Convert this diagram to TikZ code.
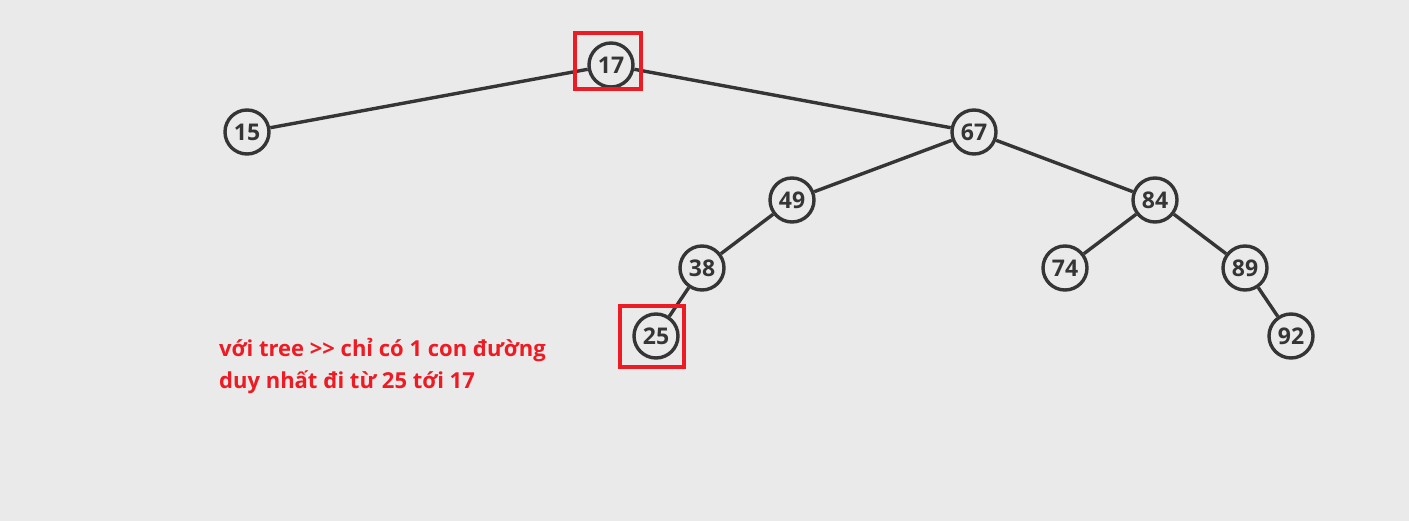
\documentclass[tikz,border=0pt]{standalone}
\usepackage{fontspec}
\setmainfont{Open Sans}
\usepackage{tikz}

\definecolor{bggray}{HTML}{EAEAEA}
\definecolor{edgegray}{HTML}{353535}
\definecolor{markred}{HTML}{ED1C24}

\begin{document}
\begin{tikzpicture}[x=1pt,y=-1pt,
    vertex/.style={circle, draw=edgegray, line width=3.4pt, fill=bggray,
                   minimum size=44pt, inner sep=0pt, text=edgegray,
                   font=\bfseries\fontsize{23}{23}\selectfont},
    treeedge/.style={draw=edgegray, line width=3.4pt},
    markbox/.style={draw=markred, line width=3.8pt}]
    \fill[bggray] (0,0) rectangle (1409,521);
    \useasboundingbox (0,0) rectangle (1409,521);

    \node[vertex] (n17) at (611,65)  {17};
    \node[vertex] (n15) at (247,132) {15};
    \node[vertex] (n67) at (974,132) {67};
    \node[vertex] (n49) at (792,200) {49};
    \node[vertex] (n84) at (1155,200) {84};
    \node[vertex] (n38) at (702,268) {38};
    \node[vertex] (n74) at (1065,268) {74};
    \node[vertex] (n89) at (1245,268) {89};
    \node[vertex] (n25) at (656,336) {25};
    \node[vertex] (n92) at (1291,336) {92};

    \path[treeedge] (n17) edge (n15)
          (n17) edge (n67)
          (n67) edge (n49)
          (n67) edge (n84)
          (n49) edge (n38)
          (n38) edge (n25)
          (n84) edge (n74)
          (n84) edge (n89)
          (n89) edge (n92);

    \draw[markbox] (575,33) rectangle (641,89);
    \draw[markbox] (620,306) rectangle (684,367);

    \node[anchor=north west, align=left, inner sep=0pt, text=markred,
          font=\bfseries\fontsize{22}{32}\selectfont] (note) at (219,338)
        {với tree >{}> chỉ có 1 con đường\\duy nhất đi từ 25 tới 17};
\end{tikzpicture}
\end{document}
